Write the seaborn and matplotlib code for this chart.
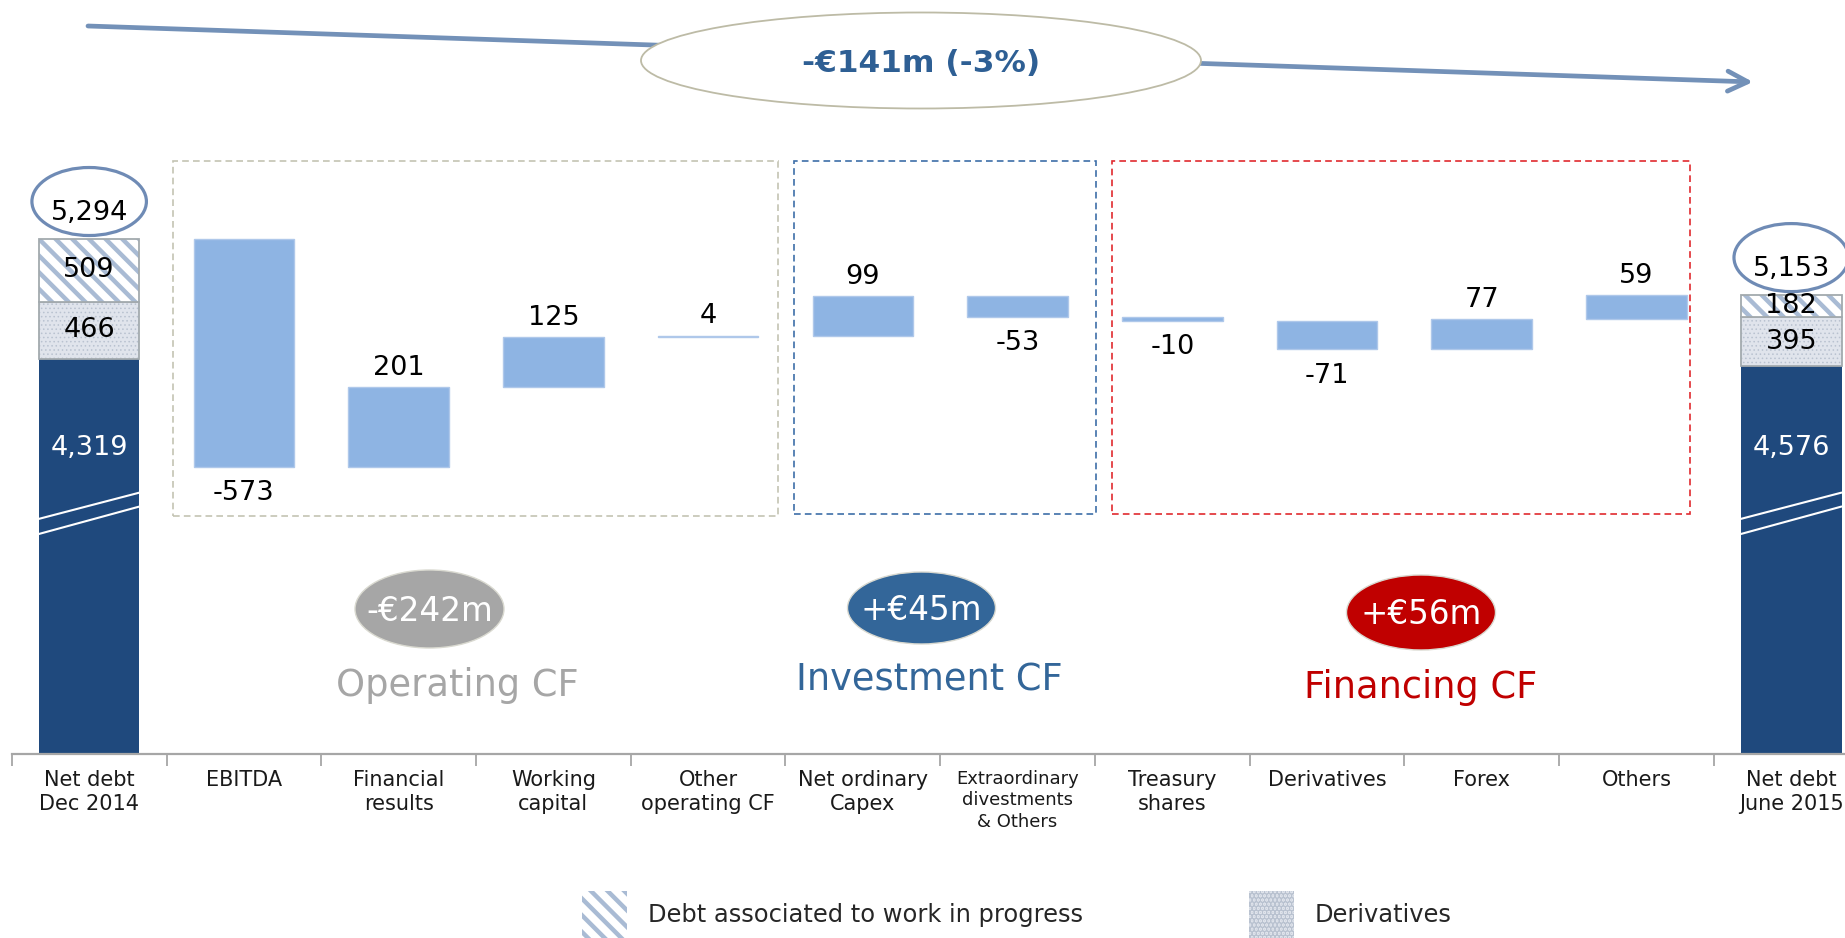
import numpy as np
import pandas as pd
import matplotlib
matplotlib.use("Agg")
import matplotlib.pyplot as plt
import seaborn as sns
from matplotlib.patches import Ellipse, Rectangle, FancyArrowPatch, Patch

# ---------------- data ----------------
categories = ["Net debt\nDec 2014", "EBITDA", "Financial\nresults", "Working\ncapital",
              "Other\noperating CF", "Net ordinary\nCapex",
              "Extraordinary\ndivestments\n& Others", "Treasury\nshares",
              "Derivatives", "Forex", "Others", "Net debt\nJune 2015"]
step_categories = categories[1:-1]
step_values = [-573, 201, 125, 4, 99, -53, -10, -71, 77, 59]

start_total = 5294
start_core = 4319
start_derivatives = 466
start_wip = 509

end_total = 5153
end_core = 4576
end_derivatives = 395
end_wip = 182

group_names = ["Operating CF", "Investment CF", "Financing CF"]
group_changes = ["-€242m", "+€45m", "+€56m"]
headline = "-€141m (-3%)"
legend_labels = ["Debt associated to work in progress", "Derivatives"]

# ---------------- style ----------------
sns.set_style("white")
plt.rcParams["font.family"] = ["DejaVu Sans"]
plt.rcParams["hatch.linewidth"] = 3.2

C_STEP = "#8EB4E3"
C_STEP_EDGE = "#AFC8EA"
C_CORE = "#1F497D"
C_STRIPE = "#A9BBD4"
C_DER_FACE = "#E0E4EC"
C_DER_DOT = "#B9C2D0"
C_SEG_EDGE = "#A3AAAE"
C_OVAL = "#6F8BB5"
GROUP_COLORS = ["#A6A6A6", "#336699", "#C00000"]
BOX_COLORS = ["#C3C3B3", "#3D6EA8", "#E02A2F"]

W, H = 1845, 938
fig = plt.figure(figsize=(W / 100, H / 100), dpi=100)


def fx(x):
    return x / W


def fy(y):
    return 1 - y / H


ax = fig.add_axes([fx(11.8), fy(754.3), 1856.8 / W, 754.3 / H])

# ---------------- waterfall steps ----------------
levels = start_total + np.concatenate([[0], np.cumsum(step_values)])
bottoms = np.minimum(levels[:-1], levels[1:])
heights = np.abs(step_values)
df_steps = pd.DataFrame({"category": step_categories, "height": heights})

BAR_W = 0.65
sns.barplot(data=df_steps, x="category", y="height", order=categories,
            bottom=bottoms, width=BAR_W, color=C_STEP, saturation=1,
            edgecolor=C_STEP_EDGE, linewidth=1, errorbar=None, ax=ax)

for i, v in enumerate(step_values):
    x = i + 1
    if v >= 0:
        ax.annotate(f"{v}", (x, levels[i + 1]), xytext=(0, 4.5),
                    textcoords="offset points", ha="center", va="bottom",
                    fontsize=19.5, color="black")
    else:
        ax.annotate(f"{v}", (x, levels[i + 1]), xytext=(0, -9.5),
                    textcoords="offset points", ha="center", va="top",
                    fontsize=19.5, color="black")

# ---------------- net debt bars (axis broken below) ----------------
SEG_SCALE = 0.31  # compressed scale for the composition segments
ends = [(0, start_total, start_core, start_derivatives, start_wip),
        (len(categories) - 1, end_total, end_core, end_derivatives, end_wip)]

core_tops = []
for x, total, core, der, wip in ends:
    wip_h = wip * SEG_SCALE
    der_h = der * SEG_SCALE
    core_tops.append(total - wip_h - der_h)

df_core = pd.DataFrame({"category": [categories[0], categories[-1]], "height": core_tops})
sns.barplot(data=df_core, x="category", y="height", order=categories, width=BAR_W,
            color=C_CORE, saturation=1, edgecolor=C_CORE, linewidth=0,
            errorbar=None, ax=ax)

has_hlw = hasattr(Patch, "set_hatch_linewidth")

for (x, total, core, der, wip), core_top in zip(ends, core_tops):
    wip_h = wip * SEG_SCALE
    der_h = der * SEG_SCALE
    wip_bottom = total - wip_h
    # derivatives segment
    b = ax.bar(x, der_h, bottom=core_top, width=BAR_W, facecolor=C_DER_FACE,
               edgecolor=C_DER_DOT, linewidth=0, hatch="...." if has_hlw else None)
    if has_hlw:
        for p in b:
            p.set_hatch_linewidth(0.6)
    ax.bar(x, der_h, bottom=core_top, width=BAR_W, fill=False,
           edgecolor=C_SEG_EDGE, linewidth=1.3)
    # work-in-progress segment
    ax.bar(x, wip_h, bottom=wip_bottom, width=BAR_W, facecolor="white",
           edgecolor=C_STRIPE, linewidth=0, hatch="\\\\")
    ax.bar(x, wip_h, bottom=wip_bottom, width=BAR_W, fill=False,
           edgecolor=C_SEG_EDGE, linewidth=1.3)
    # labels
    ax.text(x, wip_bottom + wip_h / 2, f"{wip}", ha="center", va="center",
            fontsize=19.5, color="black", zorder=5)
    ax.text(x, core_top + der_h / 2, f"{der}", ha="center", va="center",
            fontsize=19.5, color="black", zorder=5)
    ax.text(x, 4768, f"{core:,}", ha="center", va="center",
            fontsize=19.5, color="white", zorder=5)
    # break marks
    ax.plot([x - BAR_W / 2, x + BAR_W / 2], [4590, 4656], color="white", lw=1.5, zorder=5)
    ax.plot([x - BAR_W / 2, x + BAR_W / 2], [4552, 4621], color="white", lw=1.5, zorder=5)
    # total with oval
    ax.text(x, total + 65, f"{total:,}", ha="center", va="center",
            fontsize=19.5, color="black", zorder=5)
    ax.add_patch(Ellipse((x, total + 94), 0.74, 171, fill=False, edgecolor=C_OVAL,
                         linewidth=2.3, clip_on=False, zorder=5))

# ---------------- dashed group boxes ----------------
box_spans = [(0.545, 4.453), (4.556, 6.508), (6.608, 10.344)]
box_bottoms = [4596, 4602, 4602]
box_top = 5491
for (x0, x1), y0, col in zip(box_spans, box_bottoms, BOX_COLORS):
    ax.add_patch(Rectangle((x0, y0), x1 - x0, box_top - y0, fill=False,
                           edgecolor=col, linewidth=1.2,
                           linestyle=(0, (4, 2.5)), zorder=1))

# ---------------- axes styling ----------------
ax.set_ylim(3998, 5894.7)
ax.set_xlim(-0.5, len(categories) - 0.5)
ax.set_xlabel("")
ax.set_ylabel("")
ax.set_yticks([])
for s in ["left", "top", "right"]:
    ax.spines[s].set_visible(False)
ax.spines["bottom"].set_color("#A6A6A6")
ax.spines["bottom"].set_linewidth(1.6)
ax.set_xticks(range(len(categories)))
ax.set_xticklabels(categories, fontsize=15, linespacing=1.25, color="#1A1A1A")
ax.get_xticklabels()[6].set_fontsize(13)
ax.tick_params(axis="x", which="major", length=0, pad=11)
ax.set_xticks(np.arange(-0.5, len(categories), 1), minor=True)
ax.tick_params(axis="x", which="minor", length=8.5, width=1.3, color="#A6A6A6",
               bottom=True)

# ---------------- group circles and titles ----------------
circle_px = [(429.5, 609, 149, 78), (921.5, 608, 148, 72), (1421, 612.5, 149, 75)]
title_px = [(457.6, 696), (929.5, 690), (1421, 698)]
for (cx, cy, cw, ch), (tx, ty), name, chg, col in zip(circle_px, title_px, group_names,
                                                     group_changes, GROUP_COLORS):
    fig.add_artist(Ellipse((fx(cx), fy(cy)), cw / W, ch / H, transform=fig.transFigure,
                           facecolor=col, edgecolor="#D9D9D0", linewidth=1))
    fig.text(fx(cx), fy(cy + 2), chg, ha="center", va="center", fontsize=23.5,
             color="white")
    fig.text(fx(tx), fy(ty), name, ha="center", va="baseline", fontsize=26.5, color=col)

# ---------------- headline arrow ----------------
arrow = FancyArrowPatch((fx(88), fy(26)), (fx(1753), fy(82)), transform=fig.transFigure,
                        arrowstyle="->,head_length=0.72,head_width=0.36",
                        mutation_scale=20, linewidth=3.4, color="#7391B8",
                        shrinkA=0, shrinkB=0, capstyle="round")
fig.add_artist(arrow)
head_ell = Ellipse((fx(921), fy(60.5)), 560 / W, 96 / H, transform=fig.transFigure,
                   facecolor="white", edgecolor="#BDBBA6", linewidth=1.3, zorder=2)
fig.add_artist(head_ell)
fig.text(fx(921), fy(63), headline, ha="center", va="center", fontsize=22.5,
         fontweight="bold", color="#2E5F94", zorder=4)

# ---------------- legend ----------------
fs_leg = 17.4
fs_px = fs_leg * 100 / 72
h_wip = Patch(facecolor="white", edgecolor=C_STRIPE, hatch="\\\\", linewidth=0)
h_der = Patch(facecolor=C_DER_FACE, edgecolor=C_DER_DOT,
              hatch="...." if has_hlw else None, linewidth=0)
if has_hlw:
    h_der.set_hatch_linewidth(0.6)
fig.legend([h_wip, h_der], legend_labels, loc="upper left",
           bbox_to_anchor=(fx(582), fy(891)), ncol=2, frameon=False, fontsize=fs_leg,
           handlelength=45 / fs_px, handleheight=2.6,
           handletextpad=21 / fs_px, columnspacing=166 / fs_px,
           borderpad=0, borderaxespad=0)

fig.savefig("out.png", dpi=100)
